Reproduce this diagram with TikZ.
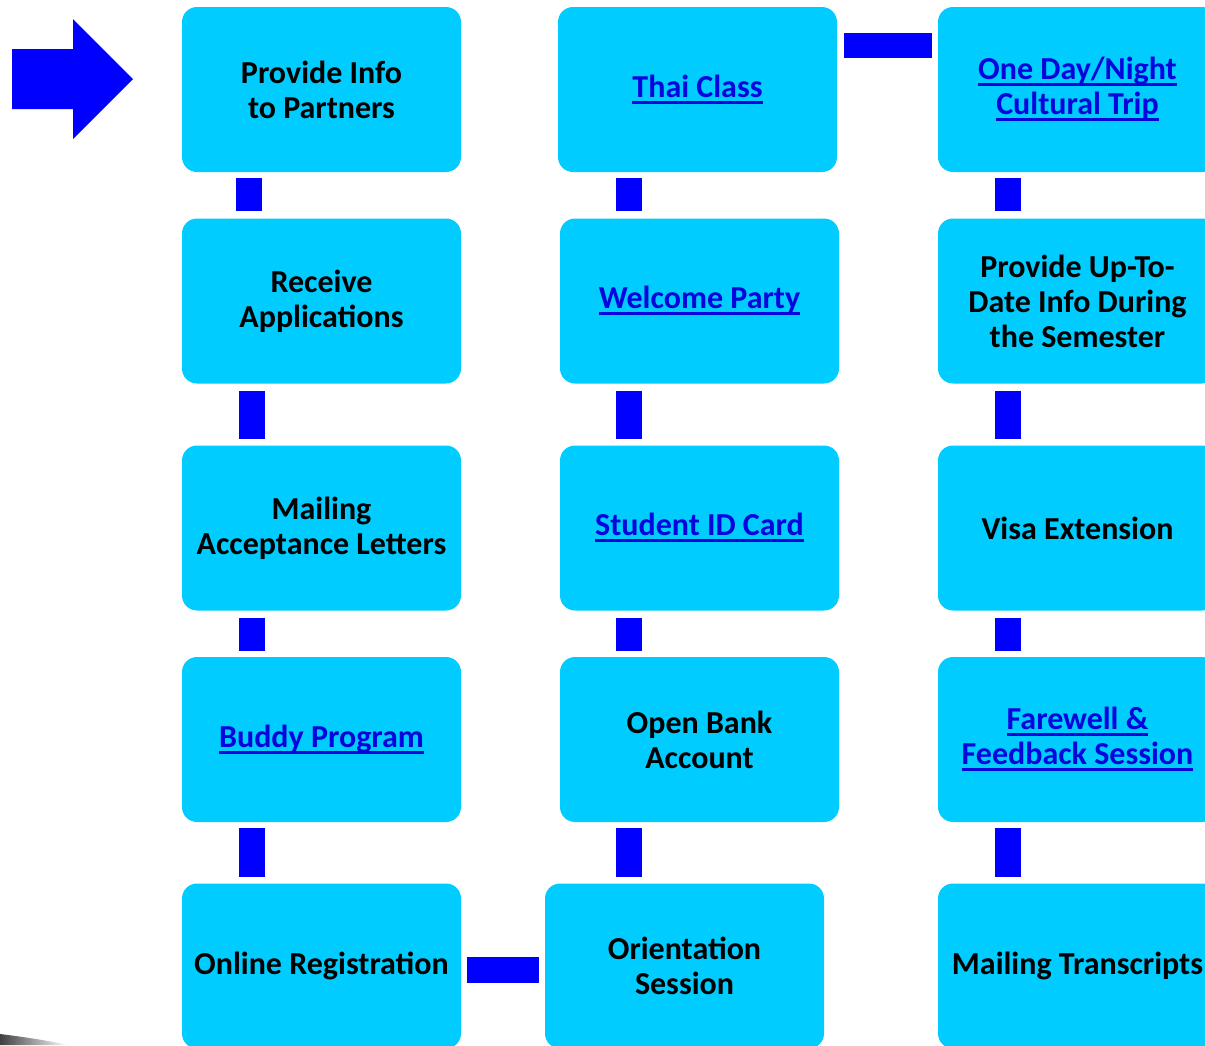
\documentclass[tikz,border=0pt]{standalone}
\usepackage{fontspec}
\setmainfont{Carlito}
\usetikzlibrary{calc}
\definecolor{boxcyan}{HTML}{00CCFF}
\definecolor{barblue}{HTML}{0000FF}
\definecolor{linkblue}{HTML}{0505DC}
\newsavebox{\lnkbox}
\newcommand{\lnk}[1]{\textcolor{linkblue}{\sbox{\lnkbox}{#1}\rlap{\raisebox{-6.5pt}{\rule{\wd\lnkbox}{3pt}}}\usebox{\lnkbox}}}
\begin{document}
\begin{tikzpicture}[x=1pt,y=-1pt,
  box/.style={fill=boxcyan, rounded corners=15pt, minimum width=279pt, minimum height=165pt,
    align=center, font=\fontsize{32}{35}\selectfont\bfseries, inner sep=0pt},
  bar/.style={draw=barblue, line width=26pt, line cap=butt},
  hbar/.style={draw=barblue, line width=25.5pt, line cap=butt}]
\useasboundingbox (0,0) rectangle (1205,1045);
% faint shadow at bottom-left corner
\shade[left color=black!75, right color=white] (0,1045) -- (0,1034) .. controls (25,1037) and (50,1041) .. (68,1045) -- cycle;
% arrow
\fill[barblue] (12,49) -- (73,49) -- (73,19) -- (133,79) -- (73,139) -- (73,109) -- (12,109) -- cycle;
% column 1
\node[box] (c1a) at (321.5,89.5) {Provide Info\\to Partners};
\node[box] (c1b) at (321.5,301) {Receive\\Applications};
\node[box] (c1c) at (321.5,528) {Mailing\\Acceptance Letters};
\node[box] (c1d) at (321.5,739.5) {\lnk{Buddy Program}};
\node[box] (c1e) at (321.5,966) {Online Registration};
% column 2
\node[box] (c2a) at (697.5,89.5) {\lnk{Thai Class}};
\node[box] (c2b) at (699.5,301) {\lnk{Welcome Party}};
\node[box] (c2c) at (699.5,528) {\lnk{Student ID Card}};
\node[box] (c2d) at (699.5,739.5) {Open Bank\\Account};
\node[box] (c2e) at (684.5,966) {Orientation\\Session};
% column 3
\node[box] (c3a) at (1077.5,89.5) {\lnk{One Day/Night}\\\lnk{Cultural Trip}};
\node[box] (c3b) at (1077.5,301) {Provide Up-To-\\Date Info During\\the Semester};
\node[box] (c3c) at (1077.5,528) {Visa Extension};
\node[box] (c3d) at (1077.5,739.5) {\lnk{Farewell \&}\\\lnk{Feedback Session}};
\node[box] (c3e) at (1077.5,966) {Mailing Transcripts};
% vertical connectors column 1
\draw[bar] ($(c1a.south)+(-72.5,6)$) -- ($(c1b.north)+(-72.5,-7)$);
\draw[bar] ($(c1b.south)+(-69.5,7)$) -- ($(c1c.north)+(-69.5,-6)$);
\draw[bar] ($(c1c.south)+(-69.5,7)$) -- ($(c1d.north)+(-69.5,-6)$);
\draw[bar] ($(c1d.south)+(-69.5,6)$) -- ($(c1e.north)+(-69.5,-6)$);
% column 2
\draw[bar] ($(c2a.south)+(-68.5,6)$) -- ($(c2b.north)+(-70.5,-7)$);
\draw[bar] ($(c2b.south)+(-70.5,7)$) -- ($(c2c.north)+(-70.5,-6)$);
\draw[bar] ($(c2c.south)+(-70.5,7)$) -- ($(c2d.north)+(-70.5,-6)$);
\draw[bar] ($(c2d.south)+(-70.5,6)$) -- ($(c2e.north)+(-55.5,-6)$);
% column 3
\draw[bar] ($(c3a.south)+(-69.5,6)$) -- ($(c3b.north)+(-69.5,-7)$);
\draw[bar] ($(c3b.south)+(-69.5,7)$) -- ($(c3c.north)+(-69.5,-6)$);
\draw[bar] ($(c3c.south)+(-69.5,7)$) -- ($(c3d.north)+(-69.5,-6)$);
\draw[bar] ($(c3d.south)+(-69.5,6)$) -- ($(c3e.north)+(-69.5,-6)$);
% horizontal connectors
\draw[hbar] ($(c2a.east)+(7,-44)$) -- ($(c3a.west)+(-6,-44)$);
\draw[hbar] ($(c1e.east)+(6,4)$) -- ($(c2e.west)+(-6,4)$);
\end{tikzpicture}
\end{document}
